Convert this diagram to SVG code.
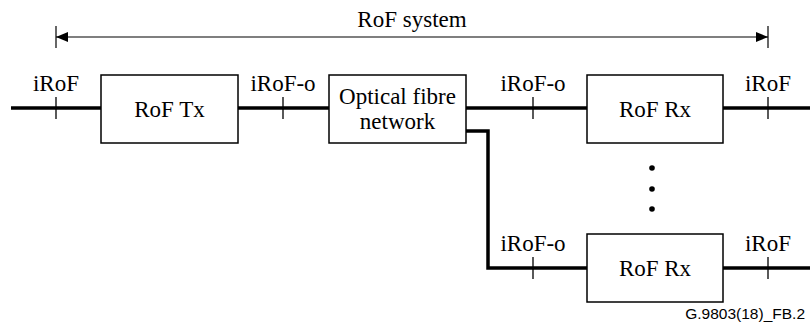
<svg xmlns="http://www.w3.org/2000/svg" width="810" height="324" viewBox="0 0 810 324">
<style>
.t{font-family:'Liberation Serif','Times New Roman',serif;font-size:23px;fill:#000;text-anchor:middle}
.box{fill:#fff;stroke:#000;stroke-width:1.5}
.sig{fill:none;stroke:#000;stroke-width:3.5}
.tick{stroke:#000;stroke-width:1.3}
.dim{stroke:#000;stroke-width:1.2;fill:none}
</style>
<defs>
<marker id="ah" viewBox="0 0 12 10" refX="12" refY="5" markerWidth="12" markerHeight="10" markerUnits="userSpaceOnUse" orient="auto-start-reverse">
<path d="M0,0 L12,5 L0,10 Z" fill="#000"/>
</marker>
</defs>
<rect width="810" height="324" fill="#fff"/>
<g id="connectors">
<path class="sig" d="M11,108 H101"/>
<path class="sig" d="M238,108 H329"/>
<path class="sig" d="M466,108 H587"/>
<path class="sig" d="M723,108 H810"/>
<path class="sig" d="M466,131 H488 V268 H587"/>
<path class="sig" d="M723,268 H810"/>
<g class="tick">
<line x1="56" y1="97" x2="56" y2="119"/>
<line x1="283" y1="97" x2="283" y2="119"/>
<line x1="533" y1="97" x2="533" y2="119"/>
<line x1="768" y1="97" x2="768" y2="119"/>
<line x1="533" y1="257" x2="533" y2="279"/>
<line x1="768" y1="257" x2="768" y2="279"/>
</g>
</g>
<g id="rof-system">
<line class="dim" x1="56" y1="26" x2="56" y2="48"/>
<line class="dim" x1="768" y1="26" x2="768" y2="48"/>
<line class="dim" x1="56" y1="37" x2="768" y2="37" marker-start="url(#ah)" marker-end="url(#ah)"/>
<text class="t" x="412" y="27">RoF system</text>
</g>
<g id="labels">
<text class="t" x="56" y="91">iRoF</text>
<text class="t" x="283" y="91">iRoF-o</text>
<text class="t" x="533" y="91">iRoF-o</text>
<text class="t" x="768" y="91">iRoF</text>
<text class="t" x="533" y="251">iRoF-o</text>
<text class="t" x="768" y="251">iRoF</text>
</g>
<g id="rof-tx">
<rect class="box" x="101" y="75" width="137" height="68"/>
<text class="t" x="169.5" y="117">RoF Tx</text>
</g>
<g id="optical-fibre-network">
<rect class="box" x="329" y="75" width="137" height="68"/>
<text class="t" x="397.5" y="104">Optical fibre</text>
<text class="t" x="397.5" y="129">network</text>
</g>
<g id="rof-rx-1">
<rect class="box" x="587" y="75" width="136" height="68"/>
<text class="t" x="655" y="117">RoF Rx</text>
</g>
<g id="dots">
<circle cx="652" cy="168" r="2.8"/>
<circle cx="652" cy="189" r="2.8"/>
<circle cx="652" cy="209" r="2.8"/>
</g>
<g id="rof-rx-2">
<rect class="box" x="587" y="234" width="136" height="68"/>
<text class="t" x="655" y="276">RoF Rx</text>
</g>
<text x="805" y="319" font-family="'Liberation Sans', Arial, sans-serif" font-size="15.5" text-anchor="end">G.9803(18)_FB.2</text>
</svg>
